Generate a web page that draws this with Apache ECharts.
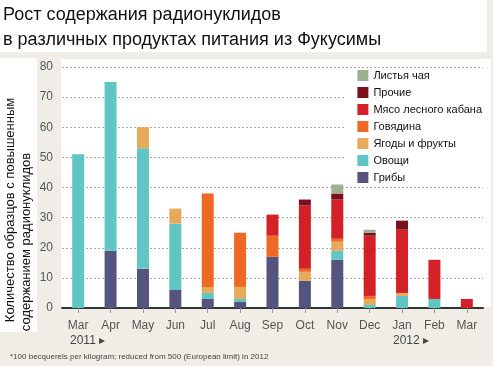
<!DOCTYPE html>
<html><head><meta charset="utf-8">
<script src="https://cdn.jsdelivr.net/npm/echarts@6/dist/echarts.min.js"></script>
<style>html,body{margin:0;padding:0;background:#efede6;}#c{width:493px;height:366px;}</style>
</head><body><div id="c"></div>
<script>
const categories = ['Mar','Apr','May','Jun','Jul','Aug','Sep','Oct','Nov','Dec','Jan','Feb','Mar'];
const mushrooms  = [0,19,13,6,3,2,17,9,16,0,0,0,0];
const vegetables = [51,56,40,22,2,1,0,0,3,1,4,3,0];
const berries    = [0,0,7,5,2,4,0,3,3,2,1,0,0];
const beef       = [0,0,0,0,31,18,7,1,1,1,0,0,0];
const boar       = [0,0,0,0,0,0,7,21,13,20,21,13,3];
const other      = [0,0,0,0,0,0,0,2,2,1,3,0,0];
const tea        = [0,0,0,0,0,0,0,0,3,1,0,0,0];
const seriesNames = ['Грибы','Овощи','Ягоды и фрукты','Говядина','Мясо лесного кабана','Прочие','Листья чая'];
const seriesData = [mushrooms, vegetables, berries, beef, boar, other, tea];
const colors = ['#55547f','#5fc6c4','#e5aa5a','#ee6a24','#d42027','#7a0f1e','#9db08f'];
const yTitle1 = 'Количество образцов с повышенным';
const yTitle2 = 'содержанием радионуклидов';

const chart = echarts.init(document.getElementById('c'));
const F = 'Liberation Sans, Arial, sans-serif';
chart.setOption({
  backgroundColor: '#efede6',
  animation: false,
  textStyle: {fontFamily: F},
  title: {
    text: 'Рост содержания радионуклидов\nв различных продуктах питания из Фукусимы',
    left: 0, top: 0, padding: [3, 3],
    textStyle: {fontSize: 18, fontWeight: 'normal', color: '#111', lineHeight: 25, fontFamily: F}
  },
  graphic: [
    {type: 'rect', z: -10, shape: {x: 0, y: 0, width: 487, height: 52}, style: {fill: '#ffffff'}},
    {type: 'rect', z: -10, shape: {x: 0, y: 58, width: 37, height: 274}, style: {fill: '#ffffff'}},
    {type: 'rect', z: -10, shape: {x: 61, y: 59, width: 430, height: 248}, style: {fill: '#ffffff'}},
    {type: 'text', x: 10, y: 210, rotation: Math.PI / 2,
      style: {text: yTitle1, fontSize: 13, fill: '#111', fontFamily: F, textAlign: 'center', textVerticalAlign: 'middle'}},
    {type: 'text', x: 26, y: 242, rotation: Math.PI / 2,
      style: {text: yTitle2, fontSize: 13, fill: '#111', fontFamily: F, textAlign: 'center', textVerticalAlign: 'middle'}},
    {type: 'text', left: 70, top: 335, style: {text: '2011 ▸', fontSize: 12, fill: '#444', fontFamily: F}},
    {type: 'text', left: 393, top: 335, style: {text: '2012 ▸', fontSize: 12, fill: '#444', fontFamily: F}},
    {type: 'text', left: 10, top: 353, style: {text: '*100 becquerels per kilogram; reduced from 500 (European limit) in 2012', fontSize: 8, fill: '#444', fontFamily: F}}
  ],
  legend: {
    orient: 'vertical',
    right: 3, top: 68,
    itemWidth: 11, itemHeight: 11, itemGap: 6,
    icon: 'rect',
    backgroundColor: '#ffffff',
    padding: [2, 8, 2, 12],
    data: seriesNames.slice().reverse(),
    textStyle: {fontSize: 11, color: '#111', fontFamily: F}
  },
  grid: {left: 62, right: 10, top: 67, bottom: 58},
  xAxis: {
    type: 'category',
    data: categories,
    axisLine: {lineStyle: {color: '#333', width: 2}},
    axisTick: {show: true, alignWithLabel: true, length: 5, lineStyle: {color: '#999'}},
    axisLabel: {color: '#555', fontSize: 12, margin: 12}
  },
  yAxis: {
    type: 'value', min: 0, max: 80, interval: 10,
    axisLine: {show: false}, axisTick: {show: false},
    axisLabel: {color: '#555', fontSize: 12, margin: 9},
    splitLine: {lineStyle: {color: '#aaa', type: [2, 2], width: 1}}
  },
  series: seriesNames.map((n, i) => ({
    name: n, type: 'bar', stack: 'a', barWidth: 12,
    itemStyle: {color: colors[i]},
    data: seriesData[i]
  }))
});
</script></body></html>
